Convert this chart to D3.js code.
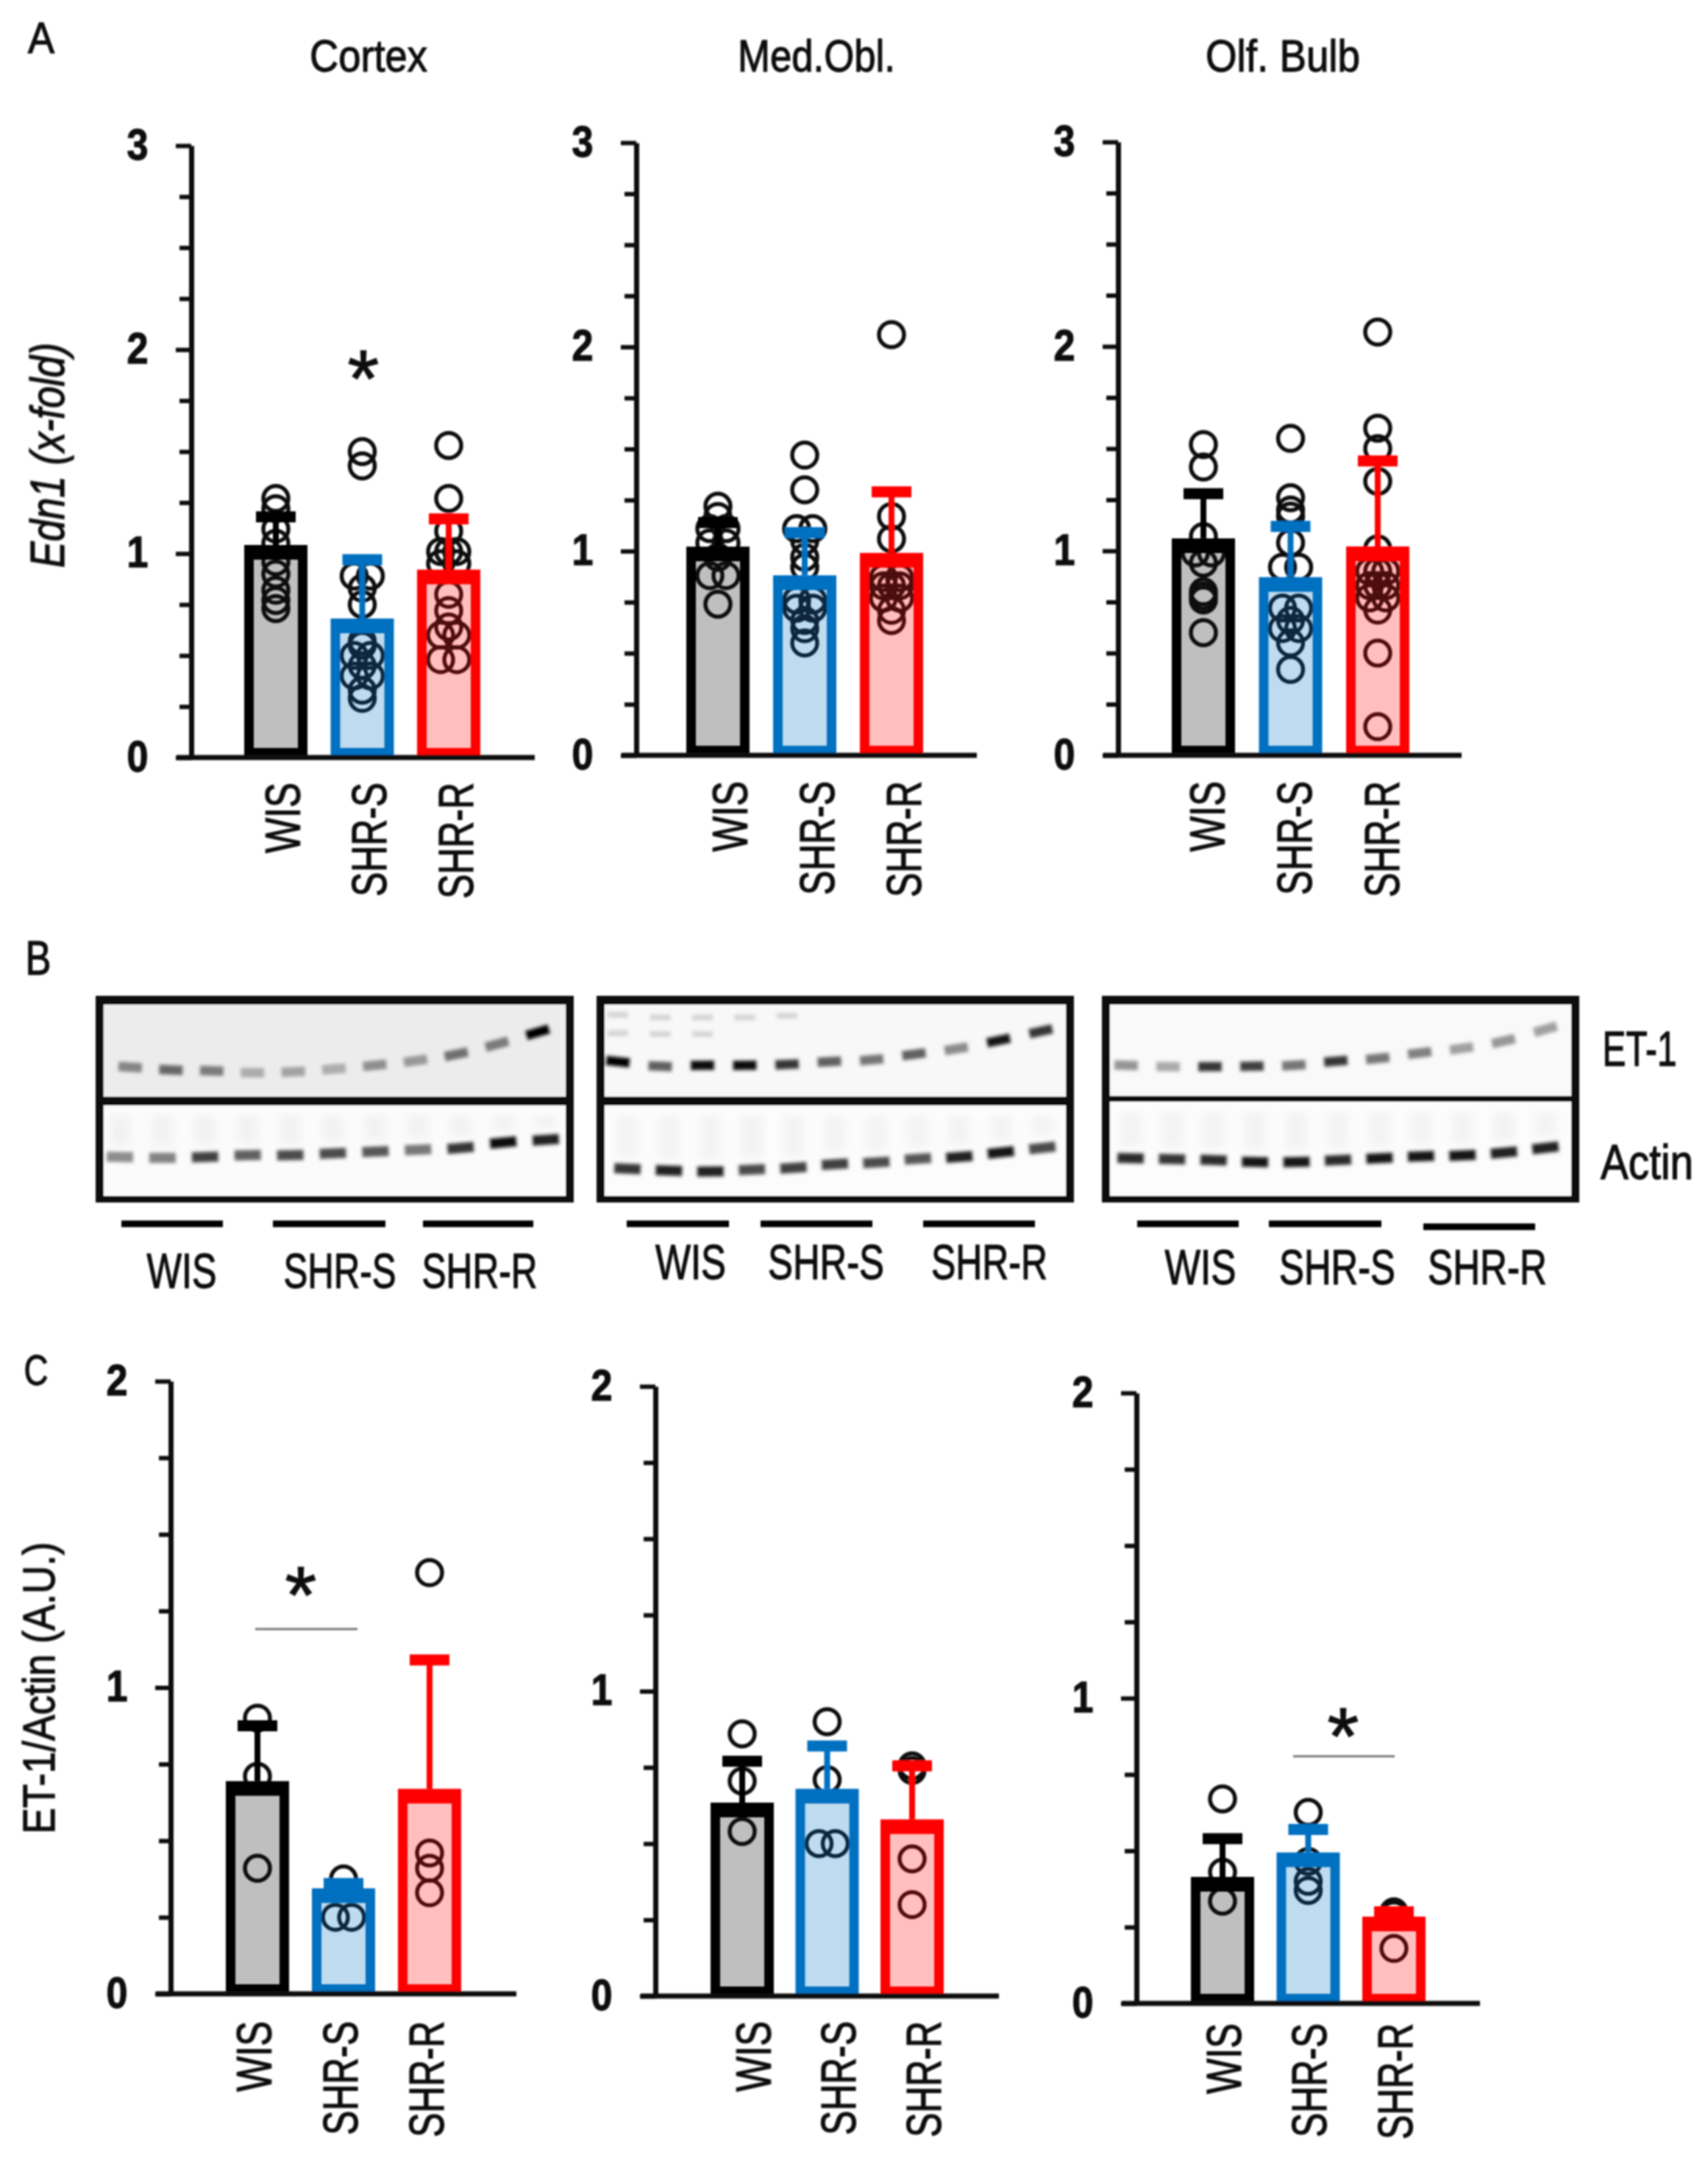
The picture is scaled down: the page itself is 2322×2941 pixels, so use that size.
<!doctype html>
<html lang="en">
<head>
<meta charset="utf-8">
<style>
body { margin: 0; background: #fff; }
text { font-family: "Liberation Sans", Arial, sans-serif; fill: #111; stroke: #111; stroke-width: 1.3; }
</style>
</head>
<body>
<script src="https://d3js.org/d3.v7.min.js"></script>
<script>
// ---- data ----
const groups = ["WIS", "SHR-S", "SHR-R"];
const groupColors = ["#000000", "#0070c0", "#ff0000"];
const tissues = ["Cortex", "Med.Obl.", "Olf. Bulb"];

// panel A, Edn1 (x-fold)
const cortexMeans = [1.02, 0.66, 0.90];
const cortexErrors = [1.18, 0.97, 1.17];
const cortexWIS = [1.27, 1.22, 1.12, 1.05, 0.96, 0.90, 0.82, 0.77, 0.73];
const cortexS = [1.50, 1.43, 0.89, 0.89, 0.83, 0.75, 0.57, 0.55, 0.50, 0.50, 0.45, 0.40, 0.40, 0.33, 0.29];
const cortexR = [1.53, 1.27, 1.11, 1.01, 1.01, 1.01, 0.95, 0.95, 0.80, 0.72, 0.64, 0.60, 0.60, 0.48, 0.48];

const medullaMeans = [1.00, 0.86, 0.97];
const medullaErrors = [1.14, 1.09, 1.29];
const medullaWIS = [1.22, 1.17, 1.11, 1.11, 1.04, 1.04, 0.97, 0.88, 0.88, 0.74];
const medullaS = [1.47, 1.30, 1.11, 1.11, 1.05, 0.97, 0.92, 0.76, 0.76, 0.72, 0.72, 0.66, 0.62, 0.55];
const medullaR = [2.06, 1.17, 1.06, 0.87, 0.87, 0.83, 0.83, 0.83, 0.77, 0.77, 0.71, 0.66];

const bulbMeans = [1.04, 0.85, 1.00];
const bulbErrors = [1.28, 1.12, 1.44];
const bulbWIS = [1.52, 1.41, 1.07, 0.99, 0.99, 0.94, 0.80, 0.78, 0.76, 0.60];
const bulbS = [1.55, 1.26, 1.20, 1.17, 1.04, 0.92, 0.92, 0.72, 0.72, 0.66, 0.62, 0.62, 0.55, 0.42];
const bulbR = [2.07, 1.60, 1.50, 1.34, 1.01, 0.90, 0.90, 0.90, 0.83, 0.83, 0.83, 0.77, 0.77, 0.71, 0.50, 0.14];

// panel C, ET-1/Actin (A.U.)
const etCortexMeans = [0.68, 0.33, 0.655];
const etCortexErrors = [0.875, 0.36, 1.09];
const etCortexWIS = [0.90, 0.71, 0.41];
const etCortexS = [0.375, 0.25, 0.25];
const etCortexR = [1.375, 0.46, 0.41, 0.33];

const etMedullaMeans = [0.62, 0.665, 0.565];
const etMedullaErrors = [0.77, 0.82, 0.755];
const etMedullaWIS = [0.86, 0.705, 0.54];
const etMedullaS = [0.90, 0.71, 0.50, 0.50];
const etMedullaR = [0.755, 0.74, 0.45, 0.30];

const etBulbMeans = [0.40, 0.48, 0.27];
const etBulbErrors = [0.54, 0.57, 0.30];
const etBulbWIS = [0.67, 0.43, 0.335];
const etBulbS = [0.626, 0.465, 0.40, 0.37];
const etBulbR = [0.30, 0.29, 0.18];

// panel B, band migration (0 top of strip, 1 bottom) and darkness per lane
const blotCortexEtPos = [0.68, 0.71, 0.72, 0.74, 0.73, 0.70, 0.66, 0.61, 0.54, 0.43, 0.30];
const blotCortexEtDark = [0.35, 0.5, 0.4, 0.15, 0.2, 0.15, 0.3, 0.25, 0.45, 0.4, 1];
const blotCortexActinPos = [0.57, 0.58, 0.57, 0.55, 0.55, 0.53, 0.51, 0.49, 0.47, 0.41, 0.38];
const blotCortexActinDark = [0.35, 0.4, 0.7, 0.55, 0.65, 0.65, 0.6, 0.45, 0.75, 0.95, 0.85];
const blotMedullaEtPos = [0.62, 0.67, 0.66, 0.66, 0.65, 0.62, 0.60, 0.54, 0.48, 0.39, 0.29];
const blotMedullaEtDark = [1, 0.55, 0.95, 0.95, 0.75, 0.55, 0.45, 0.55, 0.35, 0.9, 0.75];
const blotMedullaGhostHigh = [0.11, 0.14, 0.14, 0.14, 0.12];
const blotMedullaGhostLow = [0.31, 0.32, 0.32];
const blotMedullaActinPos = [0.70, 0.72, 0.73, 0.71, 0.69, 0.65, 0.63, 0.59, 0.57, 0.52, 0.47];
const blotMedullaActinDark = [0.75, 0.85, 0.85, 0.65, 0.7, 0.7, 0.65, 0.6, 0.85, 0.9, 0.65];
const blotBulbEtPos = [0.665, 0.68, 0.68, 0.675, 0.665, 0.62, 0.59, 0.53, 0.48, 0.40, 0.27];
const blotBulbEtDark = [0.3, 0.2, 0.75, 0.7, 0.45, 0.75, 0.45, 0.4, 0.25, 0.3, 0.25];
const blotBulbActinPos = [0.60, 0.61, 0.62, 0.64, 0.64, 0.62, 0.60, 0.58, 0.57, 0.54, 0.49];
const blotBulbActinDark = [0.8, 0.75, 0.8, 0.9, 0.9, 0.8, 0.9, 0.9, 0.9, 0.85, 0.85];

// ---- layout ----
var svg = d3.select("body").append("svg")
  .attr("width", 2322).attr("height", 2941)
  .style("display", "block");

var defs = svg.append("defs");
defs.append("filter").attr("id", "soft")
  .attr("filterUnits", "userSpaceOnUse")
  .attr("x", 0).attr("y", 0)
  .attr("width", 2322).attr("height", 2941)
  .append("feGaussianBlur").attr("stdDeviation", 1.3);
defs.append("filter").attr("id", "band")
  .attr("x", "-40%").attr("y", "-80%").attr("width", "180%").attr("height", "260%")
  .append("feGaussianBlur").attr("stdDeviation", 2);
defs.append("filter").attr("id", "smear")
  .attr("x", "-40%").attr("y", "-10%").attr("width", "180%").attr("height", "120%")
  .append("feGaussianBlur").attr("stdDeviation", 6);

var root = svg.append("g").attr("filter", "url(#soft)");

// text squeezed to a measured length, the figure was stretched when pasted
function label(parent, str, x, y, size, len, opts) {
  opts = opts || {};
  var t = parent.append("text")
    .attr("text-anchor", "middle")
    .attr("font-size", size)
    .text(str);
  if (opts.italic) t.attr("font-style", "italic");
  if (opts.bold) t.attr("font-weight", "bold");
  var sx = len / t.node().getComputedTextLength();
  t.attr("transform", "translate(" + x + "," + y + ")" + (opts.rot ? " rotate(-90)" : "") + " scale(" + sx + ",1)");
  return t;
}

function star(x, y) {
  root.append("text").attr("text-anchor", "middle")
    .attr("x", x).attr("y", y + 54).attr("font-size", 110).text("*");
}

const labelLengths = { "WIS": 96, "SHR-S": 155, "SHR-R": 158 };

// one bar panel: px is the frame of the plot, cx the bar centres
function barPanel(p) {
  var y = d3.scaleLinear().domain([0, p.max]).range([p.y0, p.yTop]);
  var x = d3.scalePoint().domain(groups).range(p.cx);
  var g = root.append("g");

  // points go under the translucent bars, equal values sit side by side
  groups.forEach(function(name, i) {
    var byValue = d3.group(p.points[i], function(d) { return d; });
    byValue.forEach(function(same, value) {
      same.forEach(function(d, k) {
        var off = same.length > 1 ? (k / (same.length - 1) - 0.5) * 22 : 0;
        g.append("circle")
          .attr("cx", x(name) + off)
          .attr("cy", y(value))
          .attr("r", 17)
          .attr("fill", "none")
          .attr("stroke", "#111")
          .attr("stroke-width", 5.5);
      });
    });
  });

  groups.forEach(function(name, i) {
    var c = groupColors[i], cx = x(name), hw = 43;
    var top = y(p.means[i]) - 6, bottom = p.y0 + 3;
    var ip = { x0: cx - hw + 13, x1: cx + hw - 13, y0: top + 20, y1: p.y0 - 13 };
    // fill
    g.append("rect")
      .attr("x", ip.x0).attr("y", ip.y0)
      .attr("width", ip.x1 - ip.x0).attr("height", ip.y1 - ip.y0)
      .attr("fill", c).attr("fill-opacity", 0.25);
    // frame
    var d = "M" + (cx - hw) + "," + top + "H" + (cx + hw) + "V" + bottom + "H" + (cx - hw) + "Z" +
            "M" + ip.x0 + "," + ip.y0 + "H" + ip.x1 + "V" + ip.y1 + "H" + ip.x0 + "Z";
    g.append("path").attr("d", d).attr("fill", c).attr("fill-rule", "evenodd");
    // error bar
    g.append("line")
      .attr("x1", cx).attr("x2", cx)
      .attr("y1", top).attr("y2", y(p.errors[i]))
      .attr("stroke", c).attr("stroke-width", 8);
    g.append("line")
      .attr("x1", cx - 27).attr("x2", cx + 27)
      .attr("y1", y(p.errors[i])).attr("y2", y(p.errors[i]))
      .attr("stroke", c).attr("stroke-width", 15);
  });

  // y axis
  var axisY = d3.axisLeft(y)
    .tickValues(d3.range(0, p.max + 0.01, 0.25))
    .tickSize(16)
    .tickSizeOuter(0)
    .tickFormat(function(d) { return Number.isInteger(d) ? d : ""; });
  var gy = g.append("g").attr("transform", "translate(" + p.axisX + ",0)").call(axisY);
  gy.select(".domain").attr("stroke", "#111").attr("stroke-width", 7);
  gy.selectAll(".tick line").attr("stroke", "#111").attr("stroke-width", 6)
    .attr("x2", function(d) { return Number.isInteger(d) ? -21 : -16; });
  gy.selectAll(".tick text")
    .attr("x", -73).attr("dy", "0.3em")
    .attr("text-anchor", "middle")
    .attr("font-family", null)
    .attr("font-size", 60)
    .attr("font-weight", "bold")
    .attr("textLength", 29).attr("lengthAdjust", "spacingAndGlyphs");

  // baseline
  g.append("line")
    .attr("x1", p.axisX - 20).attr("x2", p.xEnd)
    .attr("y1", p.y0).attr("y2", p.y0)
    .attr("stroke", "#111").attr("stroke-width", 7);

  // x axis, rotated group names
  var axisX = d3.axisBottom(x).tickSize(0);
  var gx = g.append("g").attr("transform", "translate(" + p.labelDx + "," + p.y0 + ")").call(axisX);
  gx.select(".domain").remove();
  gx.selectAll(".tick text")
    .attr("text-anchor", "end")
    .attr("font-size", 67)
    .attr("y", null).attr("dy", null)
    .attr("transform", "translate(24," + p.labelGap + ") rotate(-90)")
    .attr("textLength", function(d) { return labelLengths[d]; })
    .attr("lengthAdjust", "spacingAndGlyphs");
}

const panelA = [
  { means: cortexMeans, errors: cortexErrors, points: [cortexWIS, cortexS, cortexR],
    axisX: 260, yTop: 198, y0: 1030, xEnd: 727, cx: [375, 610], labelDx: 8, labelGap: 34 },
  { means: medullaMeans, errors: medullaErrors, points: [medullaWIS, medullaS, medullaR],
    axisX: 865, yTop: 194, y0: 1027, xEnd: 1328, cx: [976, 1212], labelDx: 15, labelGap: 35 },
  { means: bulbMeans, errors: bulbErrors, points: [bulbWIS, bulbS, bulbR],
    axisX: 1520, yTop: 193, y0: 1027, xEnd: 1987, cx: [1636, 1873], labelDx: 4, labelGap: 35 }
];
const panelC = [
  { means: etCortexMeans, errors: etCortexErrors, points: [etCortexWIS, etCortexS, etCortexR],
    axisX: 232, yTop: 1878, y0: 2711, xEnd: 702, cx: [350, 584], labelDx: -6, labelGap: 37 },
  { means: etMedullaMeans, errors: etMedullaErrors, points: [etMedullaWIS, etMedullaS, etMedullaR],
    axisX: 891, yTop: 1885, y0: 2714, xEnd: 1358, cx: [1009, 1240], labelDx: 14, labelGap: 34 },
  { means: etBulbMeans, errors: etBulbErrors, points: [etBulbWIS, etBulbS, etBulbR],
    axisX: 1545, yTop: 1894, y0: 2724, xEnd: 2012, cx: [1662, 1895], labelDx: 0, labelGap: 27 }
];
panelA.forEach(function(p) { p.max = 3; barPanel(p); });
panelC.forEach(function(p) { p.max = 2; barPanel(p); });

// ---- panel B blots ----
const blots = [
  { x0: 130, x1: 780, mid: [1491, 1503], etBg: "#ececec", actinBg: "#fbfbfb",
    et: [blotCortexEtPos, blotCortexEtDark, 177, 731], actin: [blotCortexActinPos, blotCortexActinDark, 163, 742] },
  { x0: 811, x1: 1460, mid: [1491, 1503], etBg: "#f8f8f8", actinBg: "#fcfcfc",
    et: [blotMedullaEtPos, blotMedullaEtDark, 840, 1415], actin: [blotMedullaActinPos, blotMedullaActinDark, 853, 1417],
    ghosts: [blotMedullaGhostHigh, blotMedullaGhostLow] },
  { x0: 1498, x1: 2147, mid: [1490, 1498], etBg: "#f9f9f9", actinBg: "#fcfcfc",
    et: [blotBulbEtPos, blotBulbEtDark, 1531, 2101], actin: [blotBulbActinPos, blotBulbActinDark, 1537, 2101] }
];
const blotTop = 1354, blotBottom = 1635, blotBorder = 11;

function strip(b, spec, yA, yB, bg, bandW, bandH, smear) {
  root.append("rect").attr("x", b.x0).attr("y", yA)
    .attr("width", b.x1 - b.x0).attr("height", yB - yA).attr("fill", bg);
  var lanes = d3.scalePoint().domain(d3.range(spec[0].length)).range([spec[2], spec[3]]);
  var pos = d3.scaleLinear().domain([0, 1]).range([yA, yB]);
  var shade = d3.scaleLinear().domain([0, 1]).range([0.14, 1]);
  if (b.ghosts && !smear) {
    b.ghosts.forEach(function(row) {
      row.forEach(function(v, i) {
        root.append("rect")
          .attr("x", lanes(i) - 14).attr("y", pos(v) - 4)
          .attr("width", 28).attr("height", 8)
          .attr("fill", "#000").attr("fill-opacity", 0.14)
          .attr("filter", "url(#band)");
      });
    });
  }
  spec[0].forEach(function(v, i) {
    var next = Math.min(i + 1, spec[0].length - 1), prev = Math.max(i - 1, 0);
    var slope = (pos(spec[0][next]) - pos(spec[0][prev])) / (lanes(next) - lanes(prev));
    var ang = Math.atan(slope) * 180 / Math.PI;
    if (smear) {
      // pale lane streak above the actin band
      root.append("rect")
        .attr("x", lanes(i) - bandW / 2 + 4).attr("y", yA + 14)
        .attr("width", bandW - 8).attr("height", pos(v) - yA - 30)
        .attr("fill", "#000").attr("fill-opacity", 0.035)
        .attr("filter", "url(#smear)");
    }
    root.append("rect")
      .attr("x", lanes(i) - bandW / 2).attr("y", pos(v) - bandH / 2)
      .attr("width", bandW).attr("height", bandH)
      .attr("transform", "rotate(" + ang + "," + lanes(i) + "," + pos(v) + ")")
      .attr("fill", "#000").attr("fill-opacity", shade(spec[1][i]))
      .attr("filter", "url(#band)");
  });
}

blots.forEach(function(b) {
  strip(b, b.et, blotTop + 12, b.mid[0], b.etBg, 32, 13, false);
  strip(b, b.actin, b.mid[1], blotBottom - 9, b.actinBg, 36, 14, true);
  // frame on top of the strips
  var frame = "M" + b.x0 + "," + blotTop + "H" + b.x1 + "V" + blotBottom + "H" + b.x0 + "Z" +
    "M" + (b.x0 + blotBorder) + "," + (blotTop + 12) + "H" + (b.x1 - blotBorder) + "V" + b.mid[0] + "H" + (b.x0 + blotBorder) + "Z" +
    "M" + (b.x0 + blotBorder) + "," + b.mid[1] + "H" + (b.x1 - blotBorder) + "V" + (blotBottom - 9) + "H" + (b.x0 + blotBorder) + "Z";
  root.append("path").attr("d", frame).attr("fill", "#0a0a0a").attr("fill-rule", "evenodd");
});

// lane group lines and their names
const laneBars = [[165, 303, 1664], [371, 524, 1664], [575, 725, 1664],
                  [852, 991, 1664], [1034, 1186, 1664], [1255, 1407, 1664],
                  [1546, 1684, 1664], [1725, 1878, 1664], [1935, 2087, 1668]];
root.selectAll(".lane").data(laneBars).join("line").attr("class", "lane")
  .attr("x1", function(d) { return d[0]; }).attr("x2", function(d) { return d[1]; })
  .attr("y1", function(d) { return d[2]; }).attr("y2", function(d) { return d[2]; })
  .attr("stroke", "#000").attr("stroke-width", 9);

const laneNames = [["WIS", 247, 1751, 95], ["SHR-S", 462, 1751, 153], ["SHR-R", 652, 1751, 157],
                   ["WIS", 939, 1739, 96], ["SHR-S", 1123, 1739, 158], ["SHR-R", 1345, 1739, 158],
                   ["WIS", 1632, 1746, 97], ["SHR-S", 1818, 1746, 158], ["SHR-R", 2022, 1746, 162]];
laneNames.forEach(function(d) { label(root, d[0], d[1], d[2], 67, d[3]); });
label(root, "ET-1", 2229, 1449, 67, 101);
label(root, "Actin", 2239, 1603, 67, 126);

// ---- titles, letters, significance ----
label(root, tissues[0], 501, 97, 62, 160);
label(root, tissues[1], 1110, 97, 62, 214);
label(root, tissues[2], 1744, 97, 62, 210);
label(root, "A", 56, 72, 60, 36);
label(root, "B", 52, 1325, 64, 35);
label(root, "C", 49, 1883, 58, 33);
label(root, "Edn1 (x-fold)", 87, 619, 64, 306, { rot: true, italic: true });
label(root, "ET-1/Actin (A.U.)", 74, 2295, 62, 397, { rot: true });

star(494, 498);
star(409, 2152);
star(1826, 2344);
const sigLines = [[347, 486, 2215], [1758, 1896, 2388]];
sigLines.forEach(function(s) {
  root.append("line").attr("x1", s[0]).attr("x2", s[1]).attr("y1", s[2]).attr("y2", s[2])
    .attr("stroke", "#777").attr("stroke-width", 3);
});
</script>
</body>
</html>
